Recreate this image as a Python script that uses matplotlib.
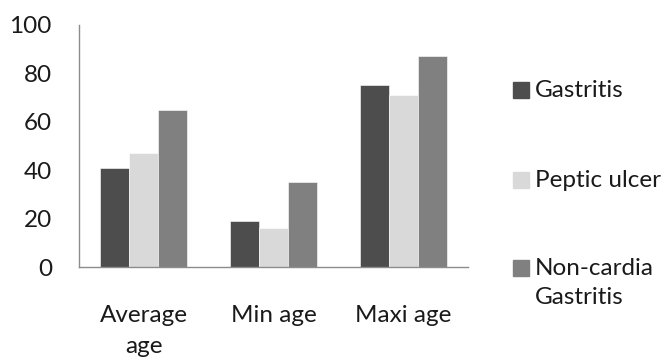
import matplotlib
matplotlib.use("Agg")
import matplotlib.pyplot as plt
from matplotlib.patches import Rectangle
import numpy as np

# Age statistics per diagnosis group
categories = ["Average\nage", "Min age", "Maxi age"]
series_names = ["Gastritis", "Peptic ulcer", "Non-cardia\nGastritis"]
gastritis = [41, 19, 75]
peptic_ulcer = [47, 16, 71]
non_cardia = [65, 35, 87]
colors = ["#4d4d4d", "#d9d9d9", "#808080"]

plt.rcParams["font.family"] = ["Lato", "DejaVu Sans"]
FS = 17.5
TXT = "#1a1a1a"

fig = plt.figure(figsize=(6.67, 3.6), dpi=100)
ax = fig.add_axes([0.1184, 0.2583, 0.5832, 0.6723])

x = np.arange(len(categories))
width = 0.224
for i, vals in enumerate([gastritis, peptic_ulcer, non_cardia]):
    ax.bar(x + (i - 1) * width, vals, width, color=colors[i],
           edgecolor="white", linewidth=0.4)

ax.set_xlim(-0.5, 2.5)
ax.set_ylim(0, 100)
ax.set_yticks(range(0, 101, 20))
ax.set_xticks(x)
ax.set_xticklabels(categories, fontsize=FS, color=TXT, linespacing=1.6)
ax.tick_params(axis="x", length=0, pad=27)
ax.tick_params(axis="y", length=0, pad=19.5, labelsize=FS, labelcolor=TXT)

for side in ["top", "right"]:
    ax.spines[side].set_visible(False)
for side in ["left", "bottom"]:
    ax.spines[side].set_color("#8c8c8c")
    ax.spines[side].set_linewidth(1.0)

# legend entries drawn by hand so the swatch sits on the first text line
W, H = 667.0, 360.0
legend_rows = [90, 180, 268]
for name, color, yrow in zip(series_names, colors, legend_rows):
    fig.patches.append(Rectangle((513 / W, 1 - (yrow + 8) / H), 16 / W, 16 / H,
                                 transform=fig.transFigure, color=color))
    fig.text(535 / W, 1 - (yrow - 10) / H, name, fontsize=FS, color=TXT,
             va="top", ha="left", linespacing=1.45)

fig.savefig("out.png", dpi=100)
